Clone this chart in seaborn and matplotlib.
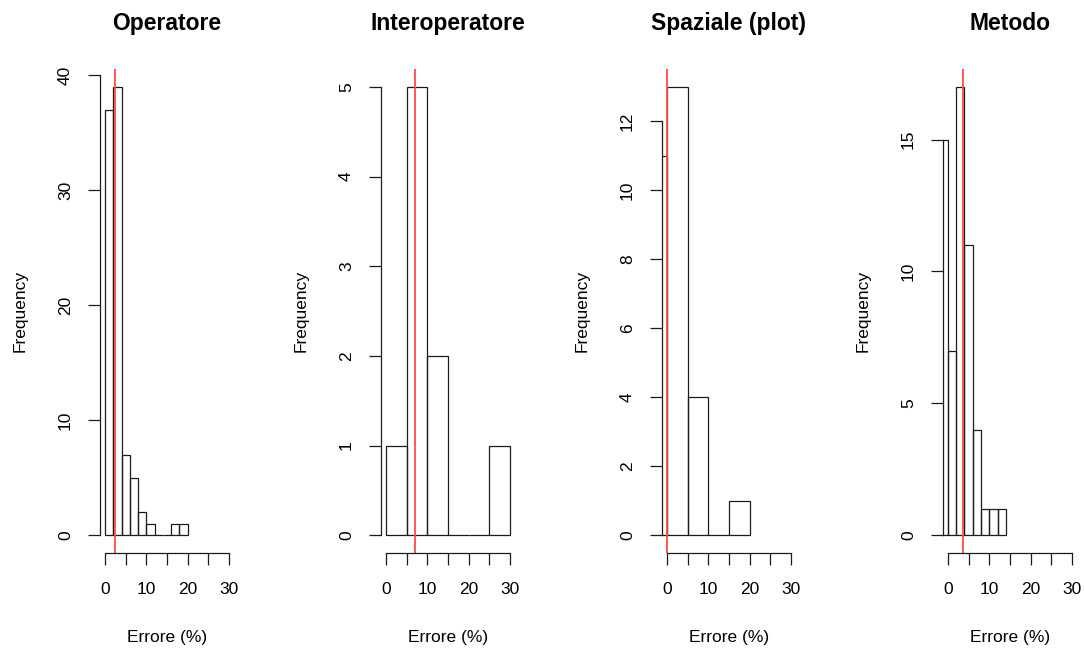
import numpy as np
import pandas as pd
import matplotlib
matplotlib.use("Agg")
import matplotlib.pyplot as plt
import seaborn as sns

# histogram bins and counts
op_edges = [0, 2, 4, 6, 8, 10, 12, 14, 16, 18, 20]
op_counts = [37, 39, 7, 5, 2, 1, 0, 0, 1, 1]
op_mean = 2.4
op_yticks = [0, 10, 20, 30, 40]

inter_edges = [0, 5, 10, 15, 20, 25, 30]
inter_counts = [1, 5, 2, 0, 0, 1]
inter_mean = 7.0
inter_yticks = [0, 1, 2, 3, 4, 5]

spaz_edges = [-5, 0, 5, 10, 15, 20]
spaz_counts = [11, 13, 4, 0, 1]
spaz_mean = 0.0
spaz_yticks = [0, 2, 4, 6, 8, 10, 12]

met_edges = [-2, 0, 2, 4, 6, 8, 10, 12, 14]
met_counts = [15, 7, 17, 11, 4, 1, 1, 1]
met_mean = 3.6
met_yticks = [0, 5, 10, 15]

titles = ["Operatore", "Interoperatore", "Spaziale (plot)", "Metodo"]
xticks = [0, 5, 10, 15, 20, 25, 30]
xticklabels = ["0", "", "10", "", "20", "", "30"]

panels = [
    (op_edges, op_counts, op_mean, op_yticks),
    (inter_edges, inter_counts, inter_mean, inter_yticks),
    (spaz_edges, spaz_counts, spaz_mean, spaz_yticks),
    (met_edges, met_counts, met_mean, met_yticks),
]

sns.set_style("ticks")
plt.rcParams["font.family"] = ["Liberation Sans", "DejaVu Sans"]
plt.rcParams["text.color"] = "black"
plt.rcParams["axes.labelcolor"] = "black"
plt.rcParams["xtick.color"] = "black"
plt.rcParams["ytick.color"] = "black"

fig, axes = plt.subplots(1, 4, figsize=(10.84, 6.5), dpi=100)
fig.subplots_adjust(left=0.0923, right=0.9935, bottom=0.149, top=0.894, wspace=1.097)

for ax, title, (edges, counts, mean, yticks) in zip(axes, titles, panels):
    e = np.array(edges, dtype=float)
    df = pd.DataFrame({"center": (e[:-1] + e[1:]) / 2, "count": counts})
    sns.histplot(data=df, x="center", weights="count", bins=list(edges), ax=ax,
                 fill=False, color="#1a1a1a", linewidth=0.9, element="bars")
    ax.axvline(mean, color="#ff4a4a", lw=1.3)

    ymax = max(counts)
    ax.set_xlim(-1.2, 31.2)
    ax.set_ylim(-0.04 * ymax, 1.04 * ymax)
    ax.set_xticks(xticks)
    ax.set_xticklabels(xticklabels)
    ax.set_yticks(yticks)
    ax.set_yticklabels([str(t) for t in yticks], rotation=90, va="center")

    for s in ["top", "right"]:
        ax.spines[s].set_visible(False)
    ax.spines["left"].set_bounds(yticks[0], yticks[-1])
    ax.spines["bottom"].set_bounds(0, 30)
    for s in ["left", "bottom"]:
        ax.spines[s].set_linewidth(0.9)
        ax.spines[s].set_color("#1a1a1a")

    ax.tick_params(axis="both", direction="out", length=8.5, width=0.9,
                   color="#1a1a1a", labelsize=12.5)
    ax.tick_params(axis="x", pad=12)
    ax.tick_params(axis="y", pad=11)

    ax.set_title(title, fontsize=16.5, fontweight="bold", pad=28)
    ax.set_xlabel("Errore (%)", fontsize=12.5, labelpad=24)
    ax.set_ylabel("Frequency", fontsize=12.5, labelpad=22)
    ax.grid(False)

fig.savefig("out.png", dpi=100, facecolor="white")
